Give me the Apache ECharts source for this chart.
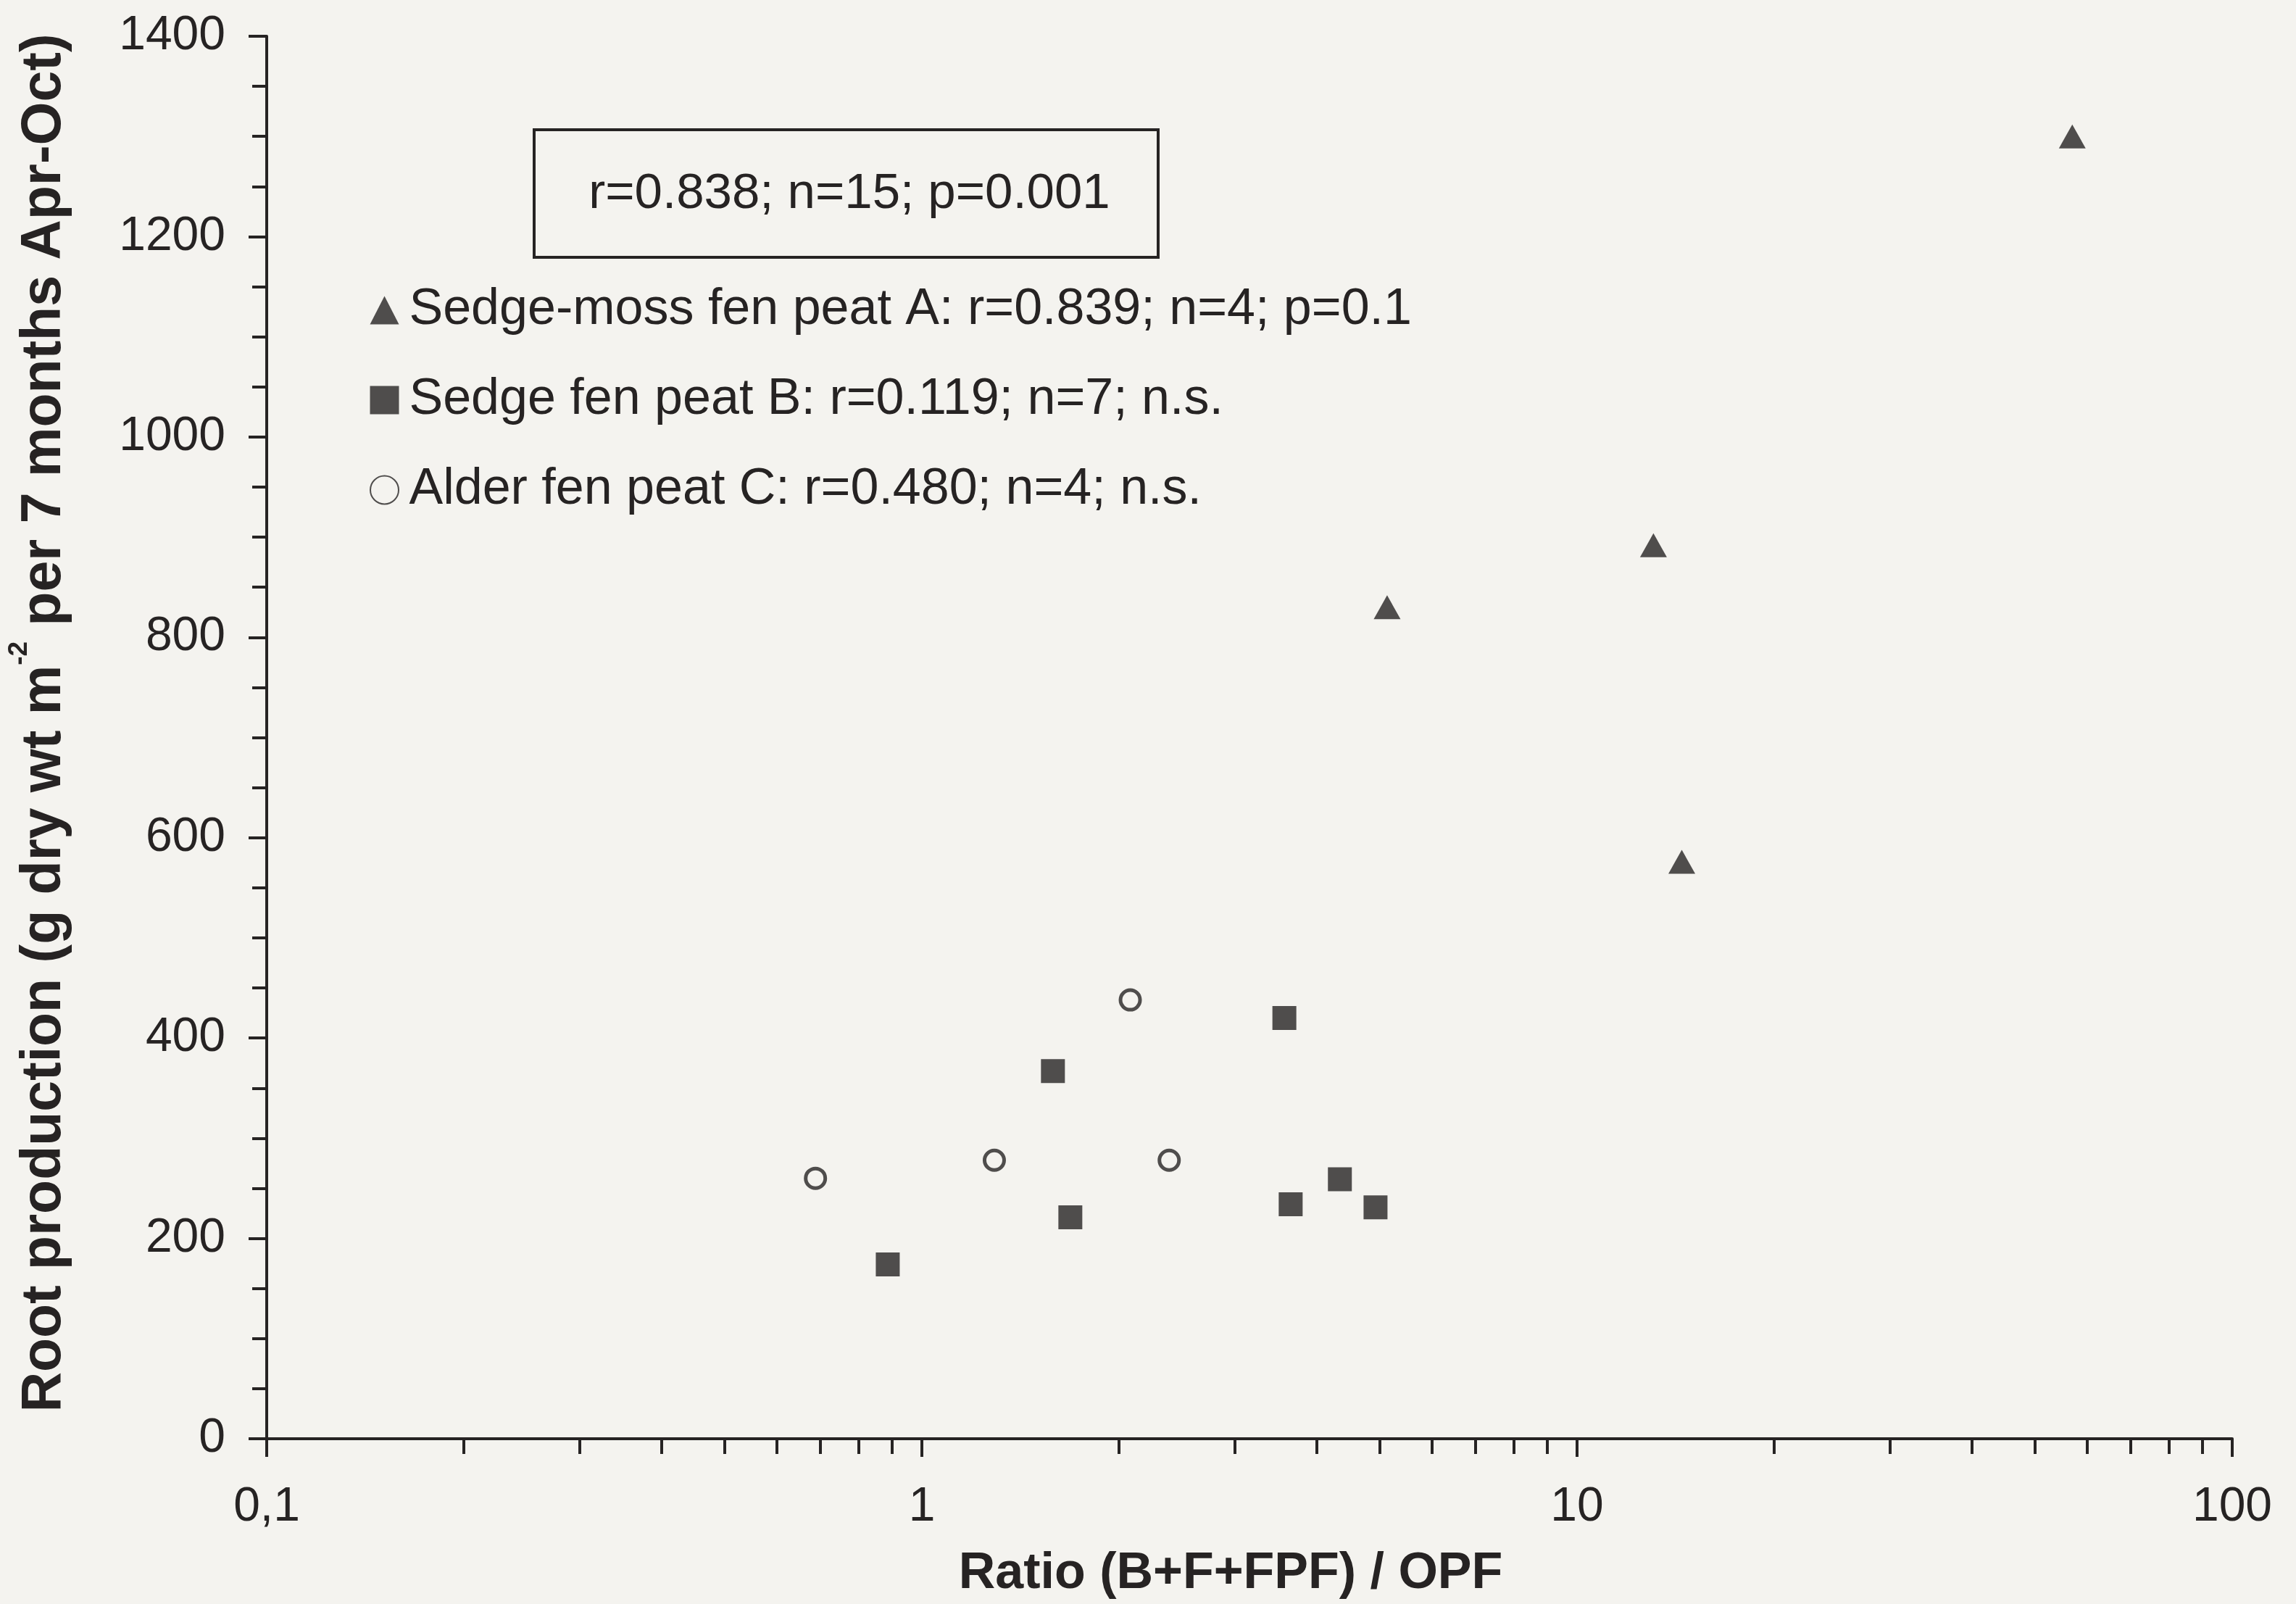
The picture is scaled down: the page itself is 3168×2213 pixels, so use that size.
<!DOCTYPE html>
<html>
<head>
<meta charset="utf-8">
<title>Root production vs ratio</title>
<script src="https://cdn.jsdelivr.net/npm/echarts@6/dist/echarts.min.js"></script>
<style>
  html, body { margin: 0; padding: 0; background: #f4f3ef; }
  #main { width: 3168px; height: 2213px; }
</style>
</head>
<body>
<div id="main"></div>
<script>
const ink = '#262323'
const paper = '#f4f3ef'
const font = 'Liberation Sans, Arial, Helvetica, sans-serif'

// Sedge-moss fen peat A (triangles)
const ratioA = [57.0, 13.08, 5.13, 14.45]
const rootA = [1300, 892, 830, 576]
// Sedge fen peat B (squares)
const ratioB = [0.887, 1.585, 1.685, 3.575, 3.655, 4.345, 4.925]
const rootB = [174, 367, 221, 420, 234, 259, 231]
// Alder fen peat C (open circles)
const ratioC = [0.688, 1.29, 2.08, 2.385]
const rootC = [260, 278, 438, 278]

const groupNames = ['Sedge-moss fen peat A', 'Sedge fen peat B', 'Alder fen peat C']
const groupStats = ['r=0.839; n=4; p=0.1', 'r=0.119; n=7; n.s.', 'r=0.480; n=4; n.s.']
const overallStats = 'r=0.838; n=15; p=0.001'

// minor ticks of the log axis (2..9 in each decade)
const xMinorTicks = [0.2, 0.3, 0.4, 0.5, 0.6, 0.7, 0.8, 0.9,
  2, 3, 4, 5, 6, 7, 8, 9, 20, 30, 40, 50, 60, 70, 80, 90]

function pairs(xs, ys) {
  return xs.map((x, i) => [x, ys[i]])
}

const chart = echarts.init(document.getElementById('main'), null, { renderer: 'canvas' })

chart.setOption({
  backgroundColor: paper,
  animation: false,
  textStyle: { fontFamily: font, color: ink },
  grid: { left: 358, right: 88, top: 50, bottom: 228, containLabel: false },
  legend: {
    orient: 'vertical',
    left: 505,
    top: 383,
    itemWidth: 40,
    itemHeight: 39,
    itemGap: 44,
    selectedMode: false,
    data: groupNames,
    formatter: name => name + ': ' + groupStats[groupNames.indexOf(name)],
    textStyle: { fontFamily: font, fontSize: 70, color: ink, lineHeight: 80, padding: [0, 0, 0, 9] }
  },
  xAxis: [
    {
      type: 'log',
      logBase: 10,
      min: 0.1,
      max: 100,
      position: 'bottom',
      name: 'Ratio (B+F+FPF) / OPF',
      nameLocation: 'middle',
      nameGap: 152,
      nameTextStyle: {
        fontFamily: font, fontSize: 70, fontWeight: 'bold', color: ink,
        padding: [0, 52, 0, 0]
      },
      axisLine: { show: true, onZero: false, lineStyle: { color: ink, width: 4 } },
      axisTick: { show: true, length: 25, lineStyle: { color: ink, width: 4 } },
      axisLabel: {
        fontFamily: font, fontSize: 66, color: ink, margin: 62,
        formatter: v => String(v).replace('.', ',')
      },
      splitLine: { show: false }
    },
    {
      // overlay only for the minor ticks of the log axis
      type: 'value',
      min: -1,
      max: 2,
      position: 'bottom',
      axisLine: { show: false, onZero: false },
      axisTick: {
        show: true, length: 21,
        customValues: xMinorTicks.map(v => Math.log10(v)),
        lineStyle: { color: ink, width: 4 }
      },
      axisLabel: { show: false },
      splitLine: { show: false }
    }
  ],
  yAxis: {
    type: 'value',
    min: 0,
    max: 1400,
    interval: 200,
    name: 'Root production (g dry wt m{sup|-2} per 7 months Apr-Oct)',
    nameLocation: 'middle',
    nameRotate: 90,
    nameGap: 252,
    nameTextStyle: {
      fontFamily: font, fontSize: 77, fontWeight: 'bold', color: ink,
      lineHeight: 108,
      padding: [0, 0, 0, 40],
      rich: {
        sup: { fontFamily: font, fontSize: 37, fontWeight: 'bold', color: ink, verticalAlign: 'top', lineHeight: 37 }
      }
    },
    axisLine: { show: true, onZero: false, lineStyle: { color: ink, width: 4 } },
    axisTick: { show: true, length: 25, lineStyle: { color: ink, width: 4 } },
    minorTick: { show: true, splitNumber: 4, length: 20, lineStyle: { color: ink, width: 4 } },
    axisLabel: { fontFamily: font, fontSize: 66, color: ink, margin: 57, formatter: v => String(v) },
    splitLine: { show: false },
    minorSplitLine: { show: false }
  },
  series: [
    {
      name: groupNames[0],
      type: 'scatter',
      xAxisIndex: 0,
      symbol: 'triangle',
      symbolSize: [37, 33],
      itemStyle: { color: ink },
      data: pairs(ratioA, rootA)
    },
    {
      name: groupNames[1],
      type: 'scatter',
      xAxisIndex: 0,
      symbol: 'rect',
      symbolSize: 33,
      itemStyle: { color: ink },
      data: pairs(ratioB, rootB)
    },
    {
      name: groupNames[2],
      type: 'scatter',
      xAxisIndex: 0,
      symbol: 'circle',
      symbolSize: 27,
      itemStyle: { color: paper, borderColor: ink, borderWidth: 5 },
      data: pairs(ratioC, rootC)
    }
  ],
  graphic: [
    {
      type: 'rect',
      shape: { x: 737, y: 179, width: 861, height: 176 },
      style: { fill: 'none', stroke: ink, lineWidth: 4 },
      z: 10
    },
    {
      type: 'text',
      x: 1172,
      y: 268,
      style: {
        text: overallStats,
        font: '69px ' + font,
        fill: ink,
        align: 'center',
        verticalAlign: 'middle'
      },
      z: 10
    }
  ]
})
</script>
</body>
</html>
